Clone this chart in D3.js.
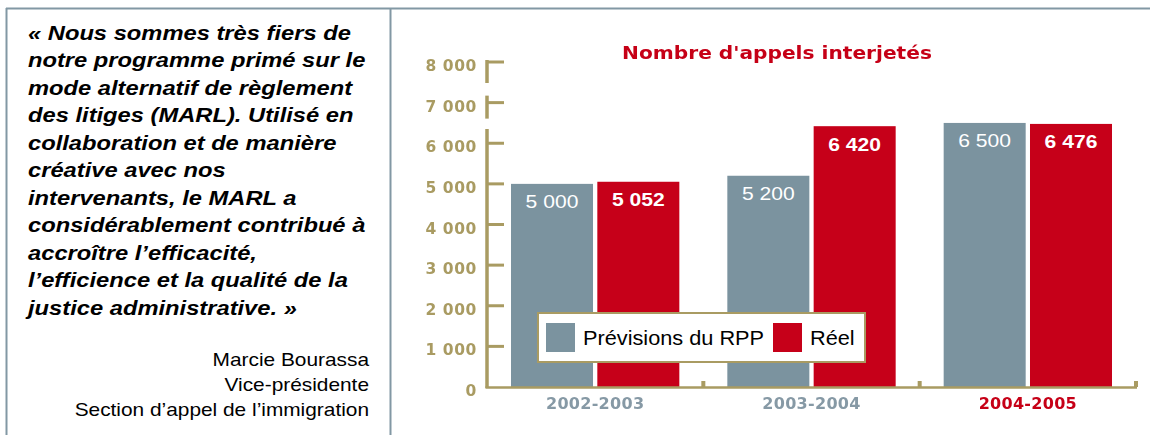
<!DOCTYPE html>
<html>
<head>
<meta charset="utf-8">
<script src="https://cdn.jsdelivr.net/npm/d3@7"></script>
<style>
  body { margin: 0; background: #fff; }
  svg { display: block; }
</style>
</head>
<body>
<div id="chart"></div>
<script>
// data
const categories = ["2002-2003", "2003-2004", "2004-2005"];
const seriesNames = ["Prévisions du RPP", "Réel"];
const previsions = [5000, 5200, 6500];
const reel = [5052, 6420, 6476];
const yTicks = [0, 1000, 2000, 3000, 4000, 5000, 6000, 7000, 8000];
const highlightCategory = "2004-2005";
const chartTitle = "Nombre d'appels interjetés";
const quoteLines = [
  "« Nous sommes très fiers de",
  "notre programme primé sur le",
  "mode alternatif de règlement",
  "des litiges (MARL). Utilisé en",
  "collaboration et de manière",
  "créative avec nos",
  "intervenants, le MARL a",
  "considérablement contribué à",
  "accroître l’efficacité,",
  "l’efficience et la qualité de la",
  "justice administrative. »"
];
const signatureLines = ["Marcie Bourassa", "Vice-présidente", "Section d’appel de l’immigration"];

const W = 1150, H = 435;
const grey = "#7b939f", red = "#c60019", khaki = "#a99b62", frame = "#8298a4";
const sans = "'Liberation Sans', Arial, sans-serif";
const heavy = "'DejaVu Sans', Verdana, sans-serif";
// the original scan is a bit wider than tall, so text gets stretched sideways
const stretch = 1.14;

const svg = d3.select("#chart").append("svg")
  .attr("width", W)
  .attr("height", H);

const defs = svg.append("defs");
defs.append("filter").attr("id", "soft")
  .append("feGaussianBlur").attr("stdDeviation", 0.45);

// frame of the page
svg.append("line")
  .attr("x1", 6).attr("x2", W).attr("y1", 8.5).attr("y2", 8.5)
  .style("stroke", frame).style("stroke-width", 2);
svg.append("line")
  .attr("x1", 6.5).attr("x2", 6.5).attr("y1", 8).attr("y2", H)
  .style("stroke", frame).style("stroke-width", 2);
svg.append("line")
  .attr("x1", 390.5).attr("x2", 390.5).attr("y1", 8).attr("y2", H)
  .style("stroke", frame).style("stroke-width", 2);

// quote
const quote = svg.append("text")
  .attr("transform", "translate(28,40) scale(1.13,1)")
  .style("font-family", sans)
  .style("font-size", "21px")
  .style("font-weight", "bold")
  .style("font-style", "italic")
  .style("fill", "#000");
quote.selectAll("tspan")
  .data(quoteLines)
  .enter()
  .append("tspan")
  .attr("x", 0)
  .attr("dy", (d, i) => i === 0 ? 0 : 27.5)
  .text((d) => d);

const sig = svg.append("text")
  .attr("transform", "translate(369,366) scale(" + stretch + ",1)")
  .attr("text-anchor", "end")
  .style("font-family", sans)
  .style("font-size", "18.3px")
  .style("fill", "#000");
sig.selectAll("tspan")
  .data(signatureLines)
  .enter()
  .append("tspan")
  .attr("x", 0)
  .attr("dy", (d, i) => i === 0 ? 0 : 25)
  .text((d) => d);

// chart
const plotLeft = 487, plotRight = 1136, plotBottom = 387, plotTop = 62;

const x0 = d3.scaleBand()
  .domain(categories)
  .range([plotLeft, plotRight])
  .padding(0);

const x1 = d3.scaleBand()
  .domain(seriesNames)
  .range([24, x0.bandwidth() - 24])
  .paddingInner(0.05);

const y = d3.scaleLinear()
  .domain([0, 8000])
  .range([plotBottom, plotTop]);

const color = d3.scaleOrdinal()
  .domain(seriesNames)
  .range([grey, red]);

const rows = categories.map((c, i) => ({
  category: c,
  values: [
    {series: seriesNames[0], value: previsions[i]},
    {series: seriesNames[1], value: reel[i]}
  ]
}));

const fmt = (v) => d3.format(",")(v).replace(",", " ");

// title
svg.append("text")
  .attr("transform", "translate(777,59) scale(1.12,1)")
  .attr("text-anchor", "middle")
  .attr("filter", "url(#soft)")
  .style("font-family", heavy)
  .style("font-size", "18px")
  .style("font-weight", "bold")
  .style("fill", red)
  .text(chartTitle);

// bars
const groups = svg.selectAll(".group")
  .data(rows)
  .enter()
  .append("g")
  .attr("class", "group")
  .attr("transform", (d) => "translate(" + x0(d.category) + ",0)");

groups.selectAll("rect")
  .data((d) => d.values)
  .enter()
  .append("rect")
  .attr("x", (d) => x1(d.series))
  .attr("y", (d) => y(d.value))
  .attr("width", x1.bandwidth())
  .attr("height", (d) => y(0) - y(d.value))
  .style("fill", (d) => color(d.series));

groups.selectAll(".value")
  .data((d) => d.values)
  .enter()
  .append("text")
  .attr("class", "value")
  .attr("transform", (d) => "translate(" + (x1(d.series) + x1.bandwidth() / 2) + "," +
    (y(d.value) + 24.5) + ") scale(" + stretch + ",1)")
  .attr("text-anchor", "middle")
  .style("font-family", sans)
  .style("font-size", "18.5px")
  .style("font-weight", (d) => d.series === seriesNames[1] ? "bold" : "normal")
  .style("fill", "#fff")
  .text((d) => fmt(d.value));

// y axis, drawn by hand to keep the broken look of the original
const yAxis = svg.append("g").attr("class", "y-axis");

yAxis.append("line")
  .attr("x1", plotLeft).attr("x2", plotLeft)
  .attr("y1", y(0) + 1).attr("y2", y(6350))
  .style("stroke", khaki).style("stroke-width", 3.5);

yAxis.selectAll(".tick")
  .data(yTicks.filter((d) => d > 0))
  .enter()
  .append("line")
  .attr("class", "tick")
  .attr("x1", plotLeft).attr("x2", plotLeft + 17)
  .attr("y1", (d) => y(d)).attr("y2", (d) => y(d))
  .style("stroke", khaki).style("stroke-width", 3);

// short stubs on the upper ticks
yAxis.selectAll(".stub")
  .data(yTicks.filter((d) => d > 6000))
  .enter()
  .append("line")
  .attr("class", "stub")
  .attr("x1", plotLeft).attr("x2", plotLeft)
  .attr("y1", (d) => y(d) - (d === 8000 ? 2 : 7))
  .attr("y2", (d) => y(d) + (d === 8000 ? 21 : 16))
  .style("stroke", khaki).style("stroke-width", 3.5);

yAxis.selectAll(".ylabel")
  .data(yTicks)
  .enter()
  .append("text")
  .attr("class", "ylabel")
  .attr("x", 477)
  .attr("y", (d) => y(d) + 9)
  .attr("text-anchor", "end")
  .attr("filter", "url(#soft)")
  .style("font-family", heavy)
  .style("font-size", "15.5px")
  .style("font-weight", "bold")
  .style("letter-spacing", "0.6px")
  .style("fill", khaki)
  .text(fmt);

// x axis
svg.append("line")
  .attr("x1", plotLeft - 1.5).attr("x2", plotRight + 1)
  .attr("y1", y(0) + 0.5).attr("y2", y(0) + 0.5)
  .style("stroke", khaki).style("stroke-width", 2.5);

svg.selectAll(".xtick")
  .data(categories)
  .enter()
  .append("rect")
  .attr("class", "xtick")
  .attr("x", (d) => x0(d) + x0.bandwidth() - 2)
  .attr("y", y(0) - 6)
  .attr("width", 4)
  .attr("height", 6)
  .style("fill", khaki);

svg.selectAll(".xlabel")
  .data(categories)
  .enter()
  .append("text")
  .attr("class", "xlabel")
  .attr("x", (d) => x0(d) + x0.bandwidth() / 2)
  .attr("y", y(0) + 22)
  .attr("text-anchor", "middle")
  .attr("filter", "url(#soft)")
  .style("font-family", heavy)
  .style("font-size", "16px")
  .style("font-weight", "bold")
  .style("letter-spacing", "0.3px")
  .style("fill", (d) => d === highlightCategory ? red : "#8699a5")
  .text((d) => d);

// legend
const legend = svg.append("g")
  .attr("transform", "translate(538,313)");

legend.append("rect")
  .attr("width", 327)
  .attr("height", 49)
  .style("fill", "#fff")
  .style("stroke", khaki)
  .style("stroke-width", 2);

const legendX = [8, 235];
const items = legend.selectAll(".legend")
  .data(seriesNames)
  .enter()
  .append("g")
  .attr("class", "legend")
  .attr("transform", (d, i) => "translate(" + legendX[i] + ",10)");

items.append("rect")
  .attr("width", 29)
  .attr("height", 29)
  .style("fill", color);

items.append("text")
  .attr("transform", "translate(37,22) scale(1.06,1)")
  .style("font-family", sans)
  .style("font-size", "20.5px")
  .style("fill", "#000")
  .text((d) => d);
</script>
</body>
</html>
